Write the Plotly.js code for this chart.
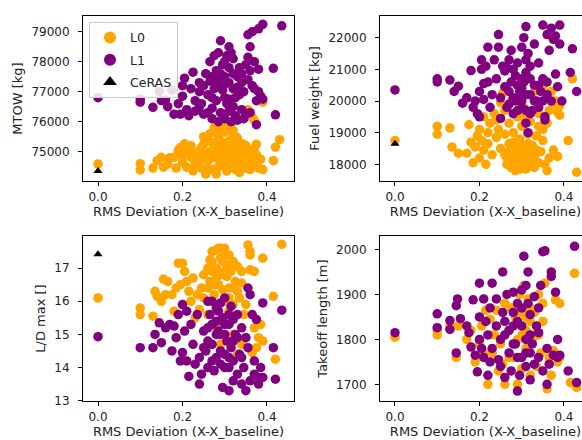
<!DOCTYPE html>
<html><head><meta charset="utf-8">
<script src="https://cdn.plot.ly/plotly-3.0.1.min.js"></script>
<style>html,body{margin:0;padding:0;overflow:hidden;background:#fff}#chart{width:600px;height:440px}</style>
</head><body><div id="chart"></div><script>
// [RMS deviation, value] pairs
const mtowL0 = [[0,74590],[0.1,74600],[0.1,74390],[0.13,74450],[0.14,74700],[0.15,74810],[0.155,74480],[0.165,74590],[0.17,74800],[0.18,74810],[0.185,74450],[0.19,75050],[0.195,75140],[0.2,74870],[0.2,74650],[0.205,75260],[0.21,74480],[0.21,75100],[0.215,74900],[0.22,74810],[0.225,74360],[0.225,75000],[0.23,74600],[0.235,74980],[0.24,74700],[0.245,74450],[0.245,75150],[0.25,74900],[0.255,74250],[0.26,75370],[0.26,74700],[0.265,75600],[0.265,75000],[0.27,74400],[0.275,75800],[0.275,74800],[0.28,75150],[0.28,74250],[0.285,75500],[0.29,74650],[0.29,74950],[0.295,75300],[0.295,75850],[0.3,74500],[0.3,75650],[0.305,75050],[0.305,74350],[0.31,75700],[0.31,74800],[0.315,75400],[0.315,75900],[0.32,74600],[0.32,75150],[0.325,74400],[0.325,75500],[0.33,74900],[0.335,75300],[0.335,74300],[0.34,74700],[0.34,75050],[0.345,74500],[0.35,74900],[0.35,75200],[0.355,74650],[0.36,74980],[0.36,74400],[0.365,74800],[0.37,75100],[0.37,74550],[0.375,74900],[0.38,74450],[0.385,74750],[0.39,74400],[0.355,76400],[0.365,76150],[0.37,76050],[0.39,76650],[0.415,74700],[0.42,75150],[0.43,75400],[0.25,75500],[0.285,74500],[0.3,75250],[0.31,75350],[0.32,75700],[0.33,75450],[0.27,75300],[0.24,75000],[0.22,75200],[0.345,75250],[0.375,75250],[0.28,75650],[0.29,75350],[0.3,75050],[0.31,74550],[0.32,74900],[0.33,74650],[0.27,74950],[0.26,74450],[0.305,75800],[0.295,74800],[0.35,74450],[0.23,74850],[0.25,75250]];
const mtowL1 = [[0,76800],[0.1,76760],[0.1,76650],[0.13,76480],[0.145,77000],[0.15,76700],[0.16,76720],[0.165,76500],[0.175,77050],[0.18,76250],[0.19,76600],[0.195,76250],[0.2,77200],[0.2,76850],[0.205,77450],[0.21,76400],[0.215,76200],[0.22,77100],[0.225,77650],[0.23,76700],[0.23,76350],[0.24,77000],[0.24,77300],[0.245,76600],[0.25,77200],[0.25,76250],[0.255,77600],[0.26,76900],[0.26,76300],[0.265,77350],[0.265,78000],[0.27,76450],[0.27,76100],[0.275,77100],[0.275,78200],[0.28,77700],[0.28,76700],[0.285,78300],[0.285,77400],[0.285,76000],[0.29,76300],[0.29,78700],[0.295,77900],[0.295,77050],[0.3,76100],[0.3,77500],[0.305,78200],[0.305,76600],[0.31,77800],[0.31,77300],[0.31,76350],[0.315,76000],[0.315,78300],[0.32,77600],[0.32,77100],[0.325,76800],[0.325,76200],[0.33,77500],[0.33,76050],[0.335,76900],[0.335,77800],[0.34,77300],[0.34,76400],[0.345,76100],[0.345,77000],[0.35,77900],[0.35,76250],[0.355,78900],[0.355,78150],[0.36,78500],[0.36,77700],[0.36,76300],[0.365,77200],[0.365,79000],[0.37,78000],[0.37,77100],[0.375,75900],[0.375,76700],[0.38,79100],[0.38,77750],[0.38,77000],[0.385,76850],[0.39,79250],[0.39,76750],[0.415,77780],[0.42,76230],[0.435,79200],[0.3,76800],[0.27,77500],[0.32,78100],[0.29,77600],[0.3,78000],[0.31,76750],[0.33,77150],[0.28,77200],[0.32,76500],[0.3,77250],[0.34,77600],[0.27,76800],[0.31,78500],[0.355,77400],[0.24,76500]];
const fuelL0 = [[0,18750],[0.1,19200],[0.1,18950],[0.13,19150],[0.135,18550],[0.15,18350],[0.17,18350],[0.175,19250],[0.18,18700],[0.185,18050],[0.19,18550],[0.195,18900],[0.2,19100],[0.2,18200],[0.205,18750],[0.21,19500],[0.21,18450],[0.215,18000],[0.22,19000],[0.22,18650],[0.225,19300],[0.23,18300],[0.235,19600],[0.24,18850],[0.245,19100],[0.25,19950],[0.25,18500],[0.255,20250],[0.26,19700],[0.265,18200],[0.265,18000],[0.27,19300],[0.27,18400],[0.275,17900],[0.275,20000],[0.28,18150],[0.28,19000],[0.285,18550],[0.285,17800],[0.29,19500],[0.29,18000],[0.295,18300],[0.3,19200],[0.3,17950],[0.3,18600],[0.305,18100],[0.305,19800],[0.31,17850],[0.31,18400],[0.315,18950],[0.315,18150],[0.32,17950],[0.32,19350],[0.325,18600],[0.33,18200],[0.33,20300],[0.335,18900],[0.34,18050],[0.34,19600],[0.345,18400],[0.35,20450],[0.35,19100],[0.355,18000],[0.36,20100],[0.36,17800],[0.365,19700],[0.365,18200],[0.37,20300],[0.375,19900],[0.375,18450],[0.38,20000],[0.385,19650],[0.385,18250],[0.39,19850],[0.39,19550],[0.41,18750],[0.42,20700],[0.43,17750],[0.28,18700],[0.26,18950],[0.295,18800],[0.31,19400],[0.29,18350],[0.3,18250],[0.32,18500],[0.27,18650],[0.35,18750],[0.24,19400],[0.34,19800],[0.28,17950],[0.29,18200],[0.3,18450],[0.31,18000],[0.32,18250],[0.33,17900],[0.27,18150],[0.295,17850],[0.305,18350],[0.315,18650],[0.26,18300],[0.335,18450],[0.34,19200],[0.3,19600],[0.36,19300]];
const fuelL1 = [[0,20350],[0.1,20700],[0.1,20600],[0.13,20660],[0.14,20300],[0.15,20470],[0.16,19930],[0.17,20100],[0.18,20960],[0.185,19800],[0.19,20000],[0.195,19600],[0.2,19500],[0.2,20300],[0.205,21300],[0.205,21000],[0.21,20550],[0.21,20050],[0.22,20600],[0.22,21700],[0.225,19800],[0.23,20200],[0.235,21300],[0.24,20700],[0.245,22100],[0.245,21700],[0.25,19450],[0.25,20100],[0.255,21100],[0.26,20450],[0.265,21050],[0.27,21300],[0.27,19900],[0.275,20600],[0.275,21600],[0.28,20100],[0.285,20800],[0.29,19700],[0.29,21200],[0.295,20300],[0.3,21700],[0.3,20000],[0.305,20600],[0.305,22000],[0.31,22350],[0.31,20900],[0.31,19300],[0.315,19000],[0.315,21500],[0.32,20200],[0.32,21100],[0.325,19700],[0.33,20500],[0.33,21800],[0.335,20000],[0.34,19800],[0.34,21200],[0.345,20300],[0.35,22400],[0.35,20700],[0.355,19500],[0.36,22100],[0.36,20200],[0.365,21600],[0.37,22300],[0.37,20000],[0.375,21950],[0.38,20850],[0.38,22050],[0.385,20450],[0.39,22400],[0.39,21800],[0.395,20000],[0.415,20900],[0.42,21650],[0.43,20300],[0.26,20950],[0.28,19600],[0.3,20400],[0.32,19600],[0.29,20500],[0.31,20200],[0.285,20000],[0.265,19800],[0.215,21100],[0.355,19400],[0.3,20700],[0.31,21300],[0.32,20700],[0.33,20000],[0.34,20500],[0.29,20100],[0.28,21000],[0.3,19800],[0.35,20000],[0.36,20600],[0.31,19700],[0.27,20300]];
const ldL0 = [[0,16.1],[0.1,15.8],[0.1,15.6],[0.13,15.55],[0.135,16.3],[0.14,16.15],[0.155,16.67],[0.165,16.6],[0.16,16.2],[0.175,16.2],[0.18,15.7],[0.19,17.15],[0.195,16.5],[0.2,17.15],[0.2,15.9],[0.205,16.9],[0.21,16.6],[0.215,16.3],[0.22,16.0],[0.225,16.7],[0.23,15.5],[0.235,16.2],[0.24,15.75],[0.245,16.4],[0.25,16.1],[0.255,14.5],[0.26,17.0],[0.265,17.25],[0.265,16.6],[0.27,17.5],[0.27,16.9],[0.275,16.2],[0.28,17.55],[0.28,17.0],[0.285,16.5],[0.29,17.6],[0.29,16.8],[0.295,17.2],[0.3,17.45],[0.3,16.0],[0.305,16.75],[0.305,17.1],[0.31,17.4],[0.31,16.4],[0.315,16.9],[0.32,17.2],[0.32,15.9],[0.325,16.6],[0.33,16.3],[0.335,16.1],[0.34,16.55],[0.345,15.6],[0.35,14.9],[0.355,17.7],[0.36,17.5],[0.36,17.4],[0.36,16.95],[0.365,14.45],[0.37,16.9],[0.37,15.2],[0.375,14.6],[0.38,14.9],[0.385,15.3],[0.39,17.3],[0.39,14.8],[0.415,16.15],[0.42,14.25],[0.435,17.72],[0.28,15.2],[0.29,14.7],[0.3,15.5],[0.32,15.0],[0.34,14.7],[0.35,15.9],[0.25,16.8],[0.26,15.6],[0.33,17.05],[0.31,15.7],[0.295,16.35],[0.185,16.4],[0.15,16.0],[0.33,14.4],[0.27,17.2],[0.28,16.7],[0.29,17.3],[0.3,16.9],[0.31,17.0],[0.3,17.6],[0.285,17.6],[0.275,16.5],[0.32,16.4],[0.26,16.4],[0.31,16.1],[0.34,16.9]];
const ldL1 = [[0,14.93],[0.1,14.6],[0.13,14.6],[0.135,15.0],[0.145,15.35],[0.15,14.75],[0.16,15.2],[0.17,15.3],[0.175,14.5],[0.18,15.25],[0.185,14.9],[0.19,15.6],[0.195,14.2],[0.2,15.9],[0.2,14.45],[0.205,15.1],[0.21,14.2],[0.21,15.7],[0.215,13.73],[0.22,15.3],[0.225,14.7],[0.23,14.1],[0.235,15.6],[0.24,14.3],[0.24,13.5],[0.245,13.8],[0.25,15.1],[0.255,14.5],[0.26,16.0],[0.26,14.0],[0.265,15.6],[0.27,14.7],[0.27,15.3],[0.275,13.9],[0.28,15.8],[0.28,14.3],[0.285,15.1],[0.29,15.95],[0.29,14.5],[0.295,13.4],[0.295,15.5],[0.3,14.0],[0.3,16.1],[0.305,14.8],[0.31,15.3],[0.31,13.3],[0.315,14.6],[0.315,15.85],[0.32,13.6],[0.32,14.2],[0.325,15.0],[0.33,15.6],[0.33,13.8],[0.335,14.4],[0.34,15.2],[0.34,13.5],[0.345,14.0],[0.35,13.3],[0.355,14.6],[0.355,16.4],[0.36,16.2],[0.36,13.6],[0.365,15.6],[0.37,13.8],[0.37,14.2],[0.375,15.45],[0.38,13.5],[0.38,13.7],[0.385,14.0],[0.39,15.95],[0.39,13.7],[0.415,14.6],[0.42,13.65],[0.435,15.73],[0.27,16.0],[0.28,15.0],[0.3,15.0],[0.31,14.3],[0.32,15.45],[0.25,14.6],[0.26,15.2],[0.29,14.1],[0.35,14.9],[0.28,15.4],[0.29,15.0],[0.3,15.3],[0.31,15.6],[0.32,14.8],[0.3,14.4],[0.27,14.2],[0.33,14.9],[0.34,14.3],[0.26,14.8],[0.31,14.0],[0.285,15.7]];
const tofL0 = [[0,1805],[0.1,1820],[0.1,1810],[0.13,1830],[0.145,1760],[0.15,1830],[0.17,1800],[0.18,1820],[0.19,1750],[0.2,1790],[0.205,1830],[0.21,1770],[0.215,1865],[0.22,1700],[0.23,1770],[0.235,1810],[0.24,1865],[0.25,1790],[0.255,1745],[0.26,1880],[0.26,1700],[0.27,1820],[0.275,1870],[0.28,1760],[0.285,1850],[0.29,1800],[0.29,1700],[0.295,1900],[0.3,1860],[0.3,1735],[0.305,1920],[0.31,1820],[0.31,1780],[0.315,1890],[0.32,1840],[0.32,1720],[0.325,1800],[0.33,1860],[0.335,1740],[0.34,1810],[0.34,1900],[0.345,1770],[0.35,1840],[0.355,1925],[0.36,1690],[0.365,1760],[0.37,1720],[0.375,1775],[0.38,1888],[0.385,1750],[0.39,1880],[0.39,1760],[0.415,1704],[0.425,1947],[0.43,1693],[0.27,1760],[0.245,1730],[0.31,1850],[0.33,1810],[0.225,1845],[0.35,1880],[0.3,1810],[0.32,1870],[0.29,1860]];
const tofL1 = [[0,1815],[0.1,1857],[0.1,1826],[0.13,1842],[0.13,1822],[0.145,1875],[0.148,1890],[0.145,1770],[0.155,1846],[0.17,1830],[0.175,1815],[0.18,1783],[0.185,1888],[0.19,1765],[0.195,1728],[0.2,1925],[0.2,1850],[0.2,1800],[0.205,1780],[0.21,1890],[0.21,1760],[0.215,1840],[0.22,1720],[0.22,1810],[0.225,1870],[0.23,1925],[0.23,1780],[0.24,1830],[0.245,1755],[0.25,1800],[0.255,1950],[0.255,1860],[0.26,1715],[0.26,1840],[0.265,1900],[0.27,1770],[0.27,1820],[0.275,1730],[0.28,1905],[0.28,1860],[0.285,1790],[0.29,1685],[0.29,1880],[0.295,1720],[0.3,1910],[0.3,1830],[0.3,1760],[0.305,1985],[0.31,1740],[0.31,1800],[0.315,1880],[0.315,1950],[0.32,1710],[0.32,1855],[0.325,1790],[0.33,1895],[0.33,1745],[0.335,1830],[0.34,1870],[0.34,1760],[0.345,1920],[0.35,1995],[0.35,1730],[0.355,1997],[0.36,1700],[0.36,1780],[0.365,1745],[0.37,1950],[0.37,1940],[0.375,1765],[0.38,1905],[0.385,1800],[0.385,1760],[0.39,1765],[0.41,1730],[0.425,2007],[0.43,1704],[0.28,1790],[0.25,1740],[0.31,1920],[0.29,1840],[0.24,1890],[0.26,1810],[0.32,1770],[0.34,1815],[0.225,1750],[0.3,1870],[0.31,1770],[0.32,1810],[0.29,1760],[0.28,1830]];
const cerasMtow = [[0,74350]];
const cerasFuel = [[0,18650]];
const cerasLD = [[0,17.42]];

const xTickVals = [0, 0.2, 0.4];
const xTickText = ['0.0', '0.2', '0.4'];
const xTitle = 'RMS Deviation (X-X_baseline)';
const yTitles = ['MTOW [kg]', 'Fuel weight [kg]', 'L/D max []', 'Takeoff length [m]'];

const ORANGE = '#FFA500', PURPLE = '#800080';
const font = 'DejaVu Sans, sans-serif';

function sc(pairs, name, color, xa, ya, show, symbol, size) {
  return {
    type: 'scatter', mode: 'markers', name: name, legendgroup: name, showlegend: show,
    x: pairs.map(p => p[0]), y: pairs.map(p => p[1]), xaxis: xa, yaxis: ya,
    marker: {color: color, size: size || 9.5, symbol: symbol || 'circle', line: {width: 0}},
    hoverinfo: 'skip'
  };
}

const traces = [
  sc(mtowL0, 'L0', ORANGE, 'x', 'y', true),
  sc(mtowL1, 'L1', PURPLE, 'x', 'y', true),
  sc(cerasMtow, 'CeRAS', '#000', 'x', 'y', true, 'triangle-up', 8),
  sc(fuelL0, 'L0', ORANGE, 'x2', 'y2', false),
  sc(fuelL1, 'L1', PURPLE, 'x2', 'y2', false),
  sc(cerasFuel, 'CeRAS', '#000', 'x2', 'y2', false, 'triangle-up', 8),
  sc(ldL0, 'L0', ORANGE, 'x3', 'y3', false),
  sc(ldL1, 'L1', PURPLE, 'x3', 'y3', false),
  sc(cerasLD, 'CeRAS', '#000', 'x3', 'y3', false, 'triangle-up', 8),
  sc(tofL0, 'L0', ORANGE, 'x4', 'y4', false),
  sc(tofL1, 'L1', PURPLE, 'x4', 'y4', false)
];

function ax(extra) {
  return Object.assign({
    showline: true, mirror: true, linecolor: '#000', linewidth: 1,
    ticks: 'outside', ticklen: 4, tickwidth: 1, tickcolor: '#000',
    showgrid: false, zeroline: false,
    tickfont: {family: font, size: 12, color: '#222'}
  }, extra);
}
function xax(domain, anchor) {
  return ax({domain: domain, anchor: anchor, range: [-0.0355, 0.464],
    tickvals: xTickVals, ticktext: xTickText, ticklabelstandoff: 1,
    title: {text: xTitle, font: {family: font, size: 13, color: '#222'}, standoff: 3}});
}
function yax(domain, anchor, range, dtick, title) {
  return ax({domain: domain, anchor: anchor, range: range, dtick: dtick, tickformat: 'd',
    ticklabelstandoff: 6,
    title: {text: title, font: {family: font, size: 13, color: '#222'}, standoff: 5}});
}

const L = [0, 0.4154], R = [0.5846, 1], T = [0.5714, 1], B = [0, 0.4286];
const layout = {
  width: 600, height: 440,
  margin: {l: 83, r: 9, t: 16, b: 39},
  paper_bgcolor: '#fff', plot_bgcolor: '#fff',
  font: {family: font, color: '#222'},
  xaxis: xax(L, 'y'), yaxis: yax(T, 'x', [74020, 79526], 1000, yTitles[0]),
  xaxis2: xax(R, 'y2'), yaxis2: yax(T, 'x2', [17473, 22685], 1000, yTitles[1]),
  xaxis3: xax(L, 'y3'), yaxis3: yax(B, 'x3', [12.99, 17.97], 1, yTitles[2]),
  xaxis4: xax(R, 'y4'), yaxis4: yax(B, 'x4', [1663, 2030], 100, yTitles[3]),
  showlegend: true,
  legend: {x: 0.0118, y: 0.985, xanchor: 'left', yanchor: 'top',
    bgcolor: 'rgba(255,255,255,0.85)', bordercolor: '#cccccc', borderwidth: 1,
    font: {family: font, size: 12.5, color: '#222'}, itemsizing: 'constant', tracegroupgap: 3}
};

Plotly.newPlot('chart', traces, layout, {staticPlot: true, displayModeBar: false});
</script></body></html>
